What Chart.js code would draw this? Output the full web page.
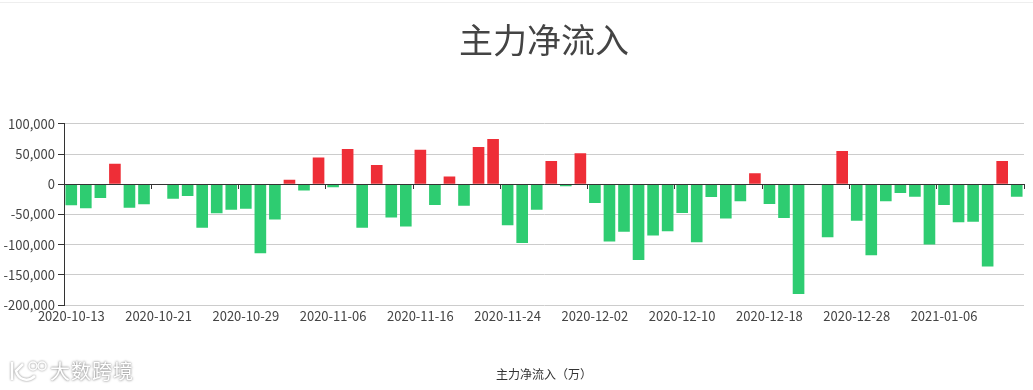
<!DOCTYPE html>
<html>
<head>
<meta charset="utf-8">
<title>主力净流入</title>
<script src="https://cdn.jsdelivr.net/npm/chart.js@4"></script>
<style>
  html, body { margin: 0; padding: 0; background: #fff; }
  #wrap { position: relative; width: 1033px; height: 390px; overflow: hidden; }
  #topline { position: absolute; left: 0; top: 2px; width: 1033px; height: 1px; background: #eee; }
  #mark { position: absolute; left: 50px; top: 358px; font: 20px/26px "Noto Sans CJK SC", sans-serif; letter-spacing: 1px;
    color: #fff; text-shadow: 0 0 2px #888, 0 0 3px #aaa; }
  #logo { position: absolute; left: 9px; top: 358px; }
</style>
</head>
<body>
<div id="wrap">
  <canvas id="flow" width="1033" height="390"></canvas>
  <div id="topline"></div>
  <svg id="logo" width="40" height="28" viewBox="0 0 40 28" fill="none" stroke="#fff" stroke-width="2.5"
       style="filter: drop-shadow(0 0 1px #888)">
    <path d="M3 4 V22 M14 6 L7 13 C9 21 18 25 26 18" />
    <circle cx="24" cy="8" r="4" stroke-width="1.5" />
    <circle cx="33" cy="8" r="4" stroke-width="1.5" />
  </svg>
  <div id="mark">大数跨境</div>
</div>
<script>
const TEXT_FONT = '"Noto Sans CJK SC", sans-serif';

const dates = [
  '2020-10-13', '2020-10-14', '2020-10-15', '2020-10-16', '2020-10-19', '2020-10-20',
  '2020-10-21', '2020-10-22', '2020-10-23', '2020-10-26', '2020-10-27', '2020-10-28',
  '2020-10-29', '2020-10-30', '2020-11-02', '2020-11-03', '2020-11-04', '2020-11-05',
  '2020-11-06', '2020-11-09', '2020-11-10', '2020-11-11', '2020-11-12', '2020-11-13',
  '2020-11-16', '2020-11-17', '2020-11-18', '2020-11-19', '2020-11-20', '2020-11-23',
  '2020-11-24', '2020-11-25', '2020-11-26', '2020-11-27', '2020-11-30', '2020-12-01',
  '2020-12-02', '2020-12-03', '2020-12-04', '2020-12-07', '2020-12-08', '2020-12-09',
  '2020-12-10', '2020-12-11', '2020-12-14', '2020-12-15', '2020-12-16', '2020-12-17',
  '2020-12-18', '2020-12-21', '2020-12-22', '2020-12-23', '2020-12-24', '2020-12-25',
  '2020-12-28', '2020-12-29', '2020-12-30', '2020-12-31', '2021-01-04', '2021-01-05',
  '2021-01-06', '2021-01-07', '2021-01-08', '2021-01-11', '2021-01-12', '2021-01-13'
];

const inflow = [
  -35000, -40000, -22800, 33900, -38900, -33300,
  0, -23900, -19400, -72200, -48300, -42200,
  -40600, -114400, -58300, 7200, -10500, 44400,
  -5000, 58300, -72200, 31700, -55000, -70000,
  57200, -34400, 12800, -35600, 61700, 75000,
  -67800, -97200, -42200, 38300, -3300, 51100,
  -31100, -95000, -78900, -125600, -85000, -77800,
  -47800, -96100, -21100, -56700, -28300, 18300,
  -32800, -56100, -181700, 0, -87800, 55000,
  -60600, -117800, -28300, -14400, -20600, -100000,
  -34400, -62800, -62200, -136100, 38300, -20600
];

const labelEvery = 6;
const red = '#ee2e37';
const green = '#2ecc71';

new Chart(document.getElementById('flow').getContext('2d'), {
  type: 'bar',
  data: {
    labels: dates,
    datasets: [{
      label: '主力净流入',
      data: inflow,
      barPercentage: 0.8,
      categoryPercentage: 1,
      backgroundColor: inflow.map(v => v >= 0 ? red : green)
    }]
  },
  options: {
    responsive: false,
    animation: false,
    layout: { padding: { left: 0, right: 9, top: 0, bottom: 0 } },
    plugins: {
      legend: { display: false },
      tooltip: { enabled: false },
      title: {
        display: true,
        text: '主力净流入',
        fullSize: false,
        color: '#444',
        font: { family: TEXT_FONT, size: 34, weight: 'normal' },
        padding: { top: 20, bottom: 63 }
      }
    },
    scales: {
      // labels stay at the bottom of the plot
      x: {
        grid: { display: false, drawTicks: false },
        border: { display: false },
        ticks: {
          color: '#444',
          font: { family: TEXT_FONT, size: 13 },
          padding: 3,
          maxRotation: 0,
          autoSkip: false,
          callback(value, i) { return i % labelEvery === 0 ? this.getLabelForValue(value) : ''; }
        },
        title: {
          display: true,
          text: '主力净流入（万）',
          color: '#333',
          font: { family: TEXT_FONT, size: 12 },
          padding: { top: 41, bottom: 8 }
        }
      },
      // axis line and ticks sit on zero
      zero: {
        axis: 'x',
        type: 'category',
        position: { y: 0 },
        border: { display: true, color: '#333', width: 1, z: 1 },
        grid: {
          offset: true,
          drawOnChartArea: false,
          tickLength: 4,
          tickColor: c => (c.index === undefined || c.index % labelEvery === 0) ? '#333' : 'rgba(0,0,0,0)'
        },
        ticks: { display: false, autoSkip: false }
      },
      y: {
        min: -200000,
        max: 100000,
        afterFit(scale) { scale.width = 64; },
        border: { color: '#333', width: 1 },
        grid: { color: '#ccc', tickColor: '#333', tickLength: 6 },
        ticks: {
          stepSize: 50000,
          color: '#444',
          padding: 3,
          font: { family: TEXT_FONT, size: 13 },
          callback: v => v.toLocaleString('en-US')
        }
      }
    }
  }
});
</script>
</body>
</html>
